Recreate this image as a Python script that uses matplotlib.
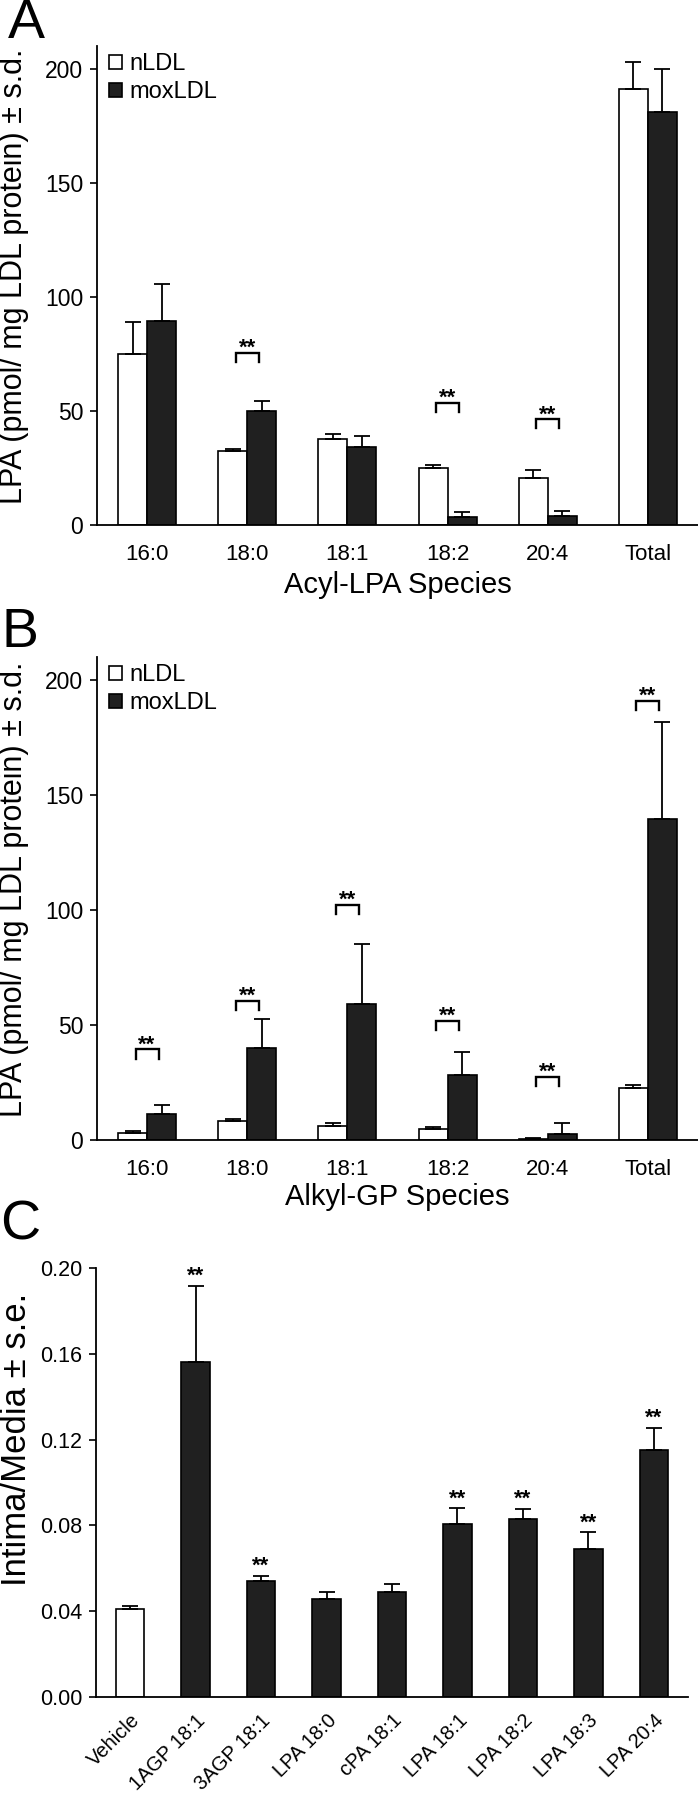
import numpy as np
import matplotlib.pyplot as plt

plt.rcParams['font.family'] = ['Liberation Sans', 'DejaVu Sans']

# panel A - acyl LPA species
acyl_species = ["16:0", "18:0", "18:1", "18:2", "20:4", "Total"]
acyl_nldl = [75, 32.5, 37.5, 25, 20.5, 191]
acyl_nldl_sd = [14, 1, 2.5, 1.5, 3.5, 12]
acyl_mox = [89.5, 50, 34, 3.5, 4, 181]
acyl_mox_sd = [16, 4.5, 5, 2, 2, 19]
acyl_bracket = [None, 75.5, None, 53.7, 46.5, None]

# panel B - alkyl GP species
alkyl_species = ["16:0", "18:0", "18:1", "18:2", "20:4", "Total"]
alkyl_nldl = [3.1, 8.1, 6.0, 5.0, 0.5, 22.8]
alkyl_nldl_sd = [1.0, 1.2, 1.3, 0.8, 0.4, 1.2]
alkyl_mox = [11.2, 40.2, 59, 28.3, 2.5, 139.6]
alkyl_mox_sd = [3.9, 12.2, 26.2, 10.1, 5.0, 42]
alkyl_bracket = [39.4, 60.6, 102.3, 51.9, 27.6, 191]

# panel C - intima/media
treatments = ["Vehicle", "1AGP 18:1", "3AGP 18:1", "LPA 18:0", "cPA 18:1",
              "LPA 18:1", "LPA 18:2", "LPA 18:3", "LPA 20:4"]
im_ratio = [0.0412, 0.156, 0.0542, 0.0458, 0.049, 0.0806, 0.0829, 0.0688, 0.1152]
im_se = [0.001, 0.0357, 0.0021, 0.003, 0.0037, 0.0073, 0.0046, 0.0079, 0.0104]
im_sig = [False, True, True, False, False, True, True, True, True]

DARK = "#202020"
W, H = 698, 1800

fig = plt.figure(figsize=(W / 100, H / 100), dpi=100)


def add_ax(left, top, right, bottom):
    return fig.add_axes([left / W, 1 - bottom / H, (right - left) / W, (bottom - top) / H])


def style_ax(ax):
    for s in ["top", "right"]:
        ax.spines[s].set_visible(False)
    for s in ["left", "bottom"]:
        ax.spines[s].set_linewidth(1.3)
    ax.tick_params(axis="y", direction="out", length=5, width=1.2, pad=5)
    ax.tick_params(axis="x", length=0, pad=14)


def grouped(ax, cats, n, nsd, m, msd, brackets, xlabel):
    x = np.arange(len(cats))
    bw = 0.29
    b1 = ax.bar(x - bw / 2, n, bw, color="white", edgecolor="k", lw=1.2, label="nLDL", zorder=2)
    b2 = ax.bar(x + bw / 2, m, bw, color=DARK, edgecolor="k", lw=1.2, label="moxLDL", zorder=2)
    ax.errorbar(x - bw / 2, n, yerr=[np.zeros(len(n)), nsd], fmt="none", ecolor="k",
                elinewidth=1.3, capsize=5.5, capthick=1.3, zorder=3)
    ax.errorbar(x + bw / 2, m, yerr=[np.zeros(len(m)), msd], fmt="none", ecolor="k",
                elinewidth=1.3, capsize=5.5, capthick=1.3, zorder=3)
    for xi, yb in zip(x, brackets):
        if yb is None:
            continue
        ax.plot([xi - 0.115, xi - 0.115, xi + 0.115, xi + 0.115], [yb - 4, yb, yb, yb - 4],
                color="k", lw=1.7, solid_joinstyle="miter")
        ax.annotate("**", (xi, yb), xytext=(0, -1), textcoords="offset points",
                    ha="center", va="baseline", fontsize=16, fontweight="bold")
    ax.set_xlim(-0.5, 5.5)
    ax.set_ylim(0, 210)
    ax.set_yticks([0, 50, 100, 150, 200])
    ax.set_xticks(x)
    ax.set_xticklabels(cats, fontsize=16)
    ax.tick_params(axis="y", labelsize=16.5)
    style_ax(ax)
    ax.set_ylabel("LPA (pmol/ mg LDL protein) \u00b1 s.d.", fontsize=22)
    ax.yaxis.label.set_va("center")
    ax.yaxis.set_label_coords(-0.138, 0.52)
    ax.set_xlabel(xlabel, fontsize=21)
    ax.xaxis.label.set_va("center")
    ax.legend(handles=[b1, b2], loc="upper left", bbox_to_anchor=(0.02, 0.985), frameon=False,
              fontsize=17, handlelength=0.55, handleheight=0.55, handletextpad=0.3,
              labelspacing=0.25, borderaxespad=0, borderpad=0)


axA = add_ax(97, 46, 698, 525)
grouped(axA, acyl_species, acyl_nldl, acyl_nldl_sd, acyl_mox, acyl_mox_sd, acyl_bracket,
        "Acyl-LPA Species")
axA.xaxis.set_label_coords(0.5, -0.125)

axB = add_ax(97, 657, 698, 1140)
grouped(axB, alkyl_species, alkyl_nldl, alkyl_nldl_sd, alkyl_mox, alkyl_mox_sd, alkyl_bracket,
        "Alkyl-GP Species")
axB.xaxis.set_label_coords(0.5, -0.118)

# panel C
axC = add_ax(96, 1268, 688, 1697)
xc = np.arange(len(treatments))
colors = ["white"] + [DARK] * (len(treatments) - 1)
axC.bar(xc, im_ratio, 0.43, color=colors, edgecolor="k", lw=1.2, zorder=2)
axC.errorbar(xc, im_ratio, yerr=[np.zeros(len(im_se)), im_se], fmt="none", ecolor="k",
             elinewidth=1.3, capsize=5.5, capthick=1.3, zorder=3)
for xi, v, e, s in zip(xc, im_ratio, im_se, im_sig):
    if s:
        axC.annotate("**", (xi, v + e), xytext=(0, 3), textcoords="offset points",
                     ha="center", va="baseline", fontsize=16, fontweight="bold")
axC.set_xlim(-0.52, 8.52)
axC.set_ylim(0, 0.2)
axC.set_yticks([0, 0.04, 0.08, 0.12, 0.16, 0.20])
axC.set_yticklabels(["0.00", "0.04", "0.08", "0.12", "0.16", "0.20"], fontsize=15.5)
axC.set_xticks(xc)
axC.set_xticklabels(treatments, fontsize=14.5, rotation=45, ha="right", va="top",
                    rotation_mode="anchor")
style_ax(axC)
axC.tick_params(axis="x", pad=10)
axC.set_ylabel("Intima/Media \u00b1 s.e.", fontsize=25)
axC.yaxis.label.set_va("center")
axC.yaxis.set_label_coords(-0.135, 0.6)

# panel letters
fig.text(8 / W, 1 - 24 / H, "A", fontsize=40, va="center", ha="left")
fig.text(2 / W, 1 - 633 / H, "B", fontsize=40, va="center", ha="left")
fig.text(0 / W, 1 - 1226 / H, "C", fontsize=40, va="center", ha="left")

fig.savefig("out.png", dpi=100)
